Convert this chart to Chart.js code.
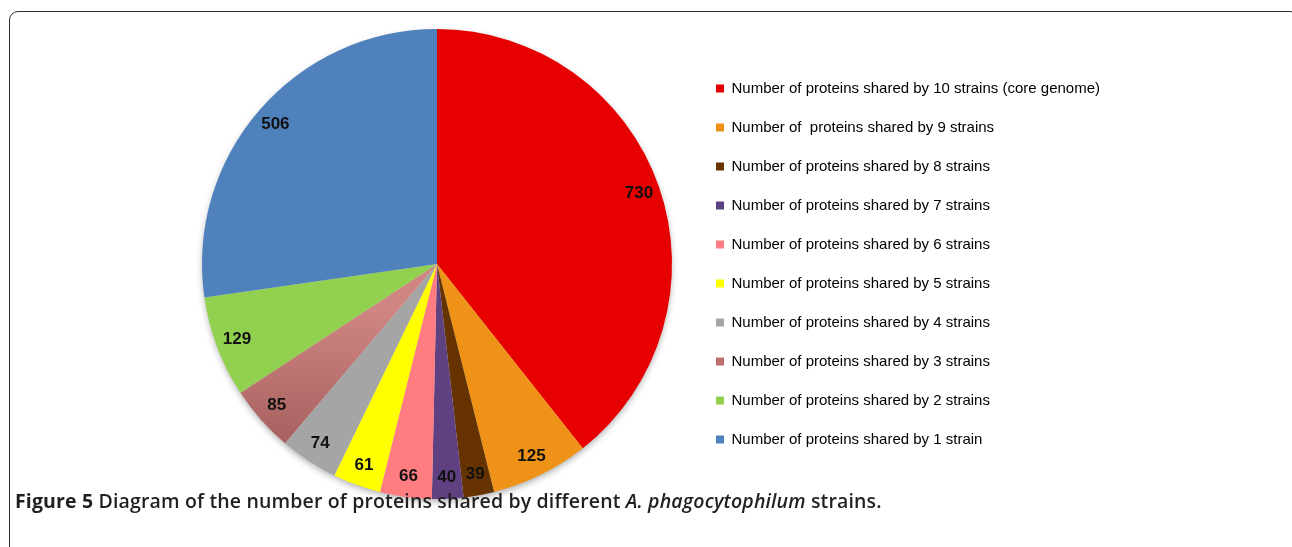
<!DOCTYPE html>
<html>
<head>
<meta charset="utf-8">
<script src="https://cdn.jsdelivr.net/npm/chart.js@4.4.1/dist/chart.umd.min.js"></script>
<style>
  html, body { margin: 0; padding: 0; background: #fff; }
  body { width: 1292px; height: 547px; position: relative; overflow: hidden; }
  #frame {
    position: absolute; left: 9px; top: 11px; width: 1290px; height: 600px;
    border: 1.5px solid #2a2a2a; border-radius: 9px; box-sizing: border-box;
  }
  #wrap { position: absolute; left: 0; top: 0; width: 1292px; height: 547px; }
  #caption {
    position: absolute; left: 15px; top: 488px; line-height: 26px;
    font-family: "Open Sans", sans-serif; font-size: 19.5px; font-weight: 600;
    color: #231f20; white-space: nowrap; letter-spacing: 0.15px;
  }
  #caption b { font-weight: 700; }
</style>
</head>
<body>
<div id="frame"></div>
<div id="wrap"><canvas id="chart" width="1292" height="547"></canvas></div>
<div id="caption"><b>Figure 5</b> Diagram of the number of proteins shared by different <i>A. phagocytophilum</i> strains.</div>
<script>
const categories = [
    'Number of proteins shared by 10 strains (core genome)',
    'Number of  proteins shared by 9 strains',
    'Number of proteins shared by 8 strains',
    'Number of proteins shared by 7 strains',
    'Number of proteins shared by 6 strains',
    'Number of proteins shared by 5 strains',
    'Number of proteins shared by 4 strains',
    'Number of proteins shared by 3 strains',
    'Number of proteins shared by 2 strains',
    'Number of proteins shared by 1 strain'
];
const proteinCounts = [730, 125, 39, 40, 66, 61, 74, 85, 129, 506];
const sliceColors = ['#E60000', '#EE9318', '#663300', '#5F4181', '#FF7C80',
                     '#FFFF00', '#A5A5A5', '#C0716F', '#92D050', '#4F81BD'];

const chart = document.getElementById('chart');

// soft shadow under the pie
const pieShadow = {
    id: 'pieShadow',
    beforeDatasetsDraw(c) {
        const arc = c.getDatasetMeta(0).data[0];
        if (!arc) return;
        const ctx = c.ctx;
        ctx.save();
        ctx.shadowColor = 'rgba(0,0,0,0.35)';
        ctx.shadowBlur = 7;
        ctx.shadowOffsetY = 3;
        ctx.fillStyle = '#ddd';
        ctx.beginPath();
        ctx.arc(arc.x, arc.y, arc.outerRadius - 1, 0, Math.PI * 2);
        ctx.fill();
        ctx.restore();
    }
};

// value labels inside the slices, near the rim
const sliceLabels = {
    id: 'sliceLabels',
    afterDatasetsDraw(c) {
        const ctx = c.ctx;
        const values = c.data.datasets[0].data;
        ctx.save();
        ctx.font = 'bold 17px "Liberation Sans", Arial, sans-serif';
        ctx.fillStyle = '#111';
        ctx.textAlign = 'center';
        ctx.textBaseline = 'middle';
        c.getDatasetMeta(0).data.forEach((arc, i) => {
            const mid = (arc.startAngle + arc.endAngle) / 2;
            const r = arc.outerRadius * 0.91;
            ctx.fillText(values[i], arc.x + Math.cos(mid) * r, arc.y + Math.sin(mid) * r);
        });
        ctx.restore();
    }
};

new Chart(chart, {
    type: 'pie',
    data: {
        labels: categories,
        datasets: [{
            data: proteinCounts,
            borderWidth: 0,
            backgroundColor: (context) => {
                const i = context.dataIndex;
                if (i === 7 && context.chart.chartArea) {
                    const a = context.chart.chartArea;
                    const g = context.chart.ctx.createLinearGradient(0, a.top + a.height * 0.6, 0, a.bottom - a.height * 0.05);
                    g.addColorStop(0, '#CF8683');
                    g.addColorStop(1, '#9E5756');
                    return g;
                }
                return sliceColors[i];
            }
        }]
    },
    options: {
        responsive: false,
        animation: false,
        layout: { padding: { top: 29, bottom: 48, left: 182, right: 182 } },
        plugins: {
            tooltip: { enabled: false },
            legend: {
                position: 'right',
                labels: {
                    boxWidth: 8,
                    boxHeight: 8,
                    padding: 24,
                    color: '#1e1e1e',
                    font: { family: '"Liberation Sans", Arial, sans-serif', size: 15 },
                    generateLabels: (c) => c.data.labels.map((t, i) => ({
                        text: t,
                        fillStyle: sliceColors[i],
                        strokeStyle: sliceColors[i],
                        lineWidth: 0,
                        index: i
                    }))
                }
            }
        }
    },
    plugins: [pieShadow, sliceLabels]
});
</script>
</body>
</html>
